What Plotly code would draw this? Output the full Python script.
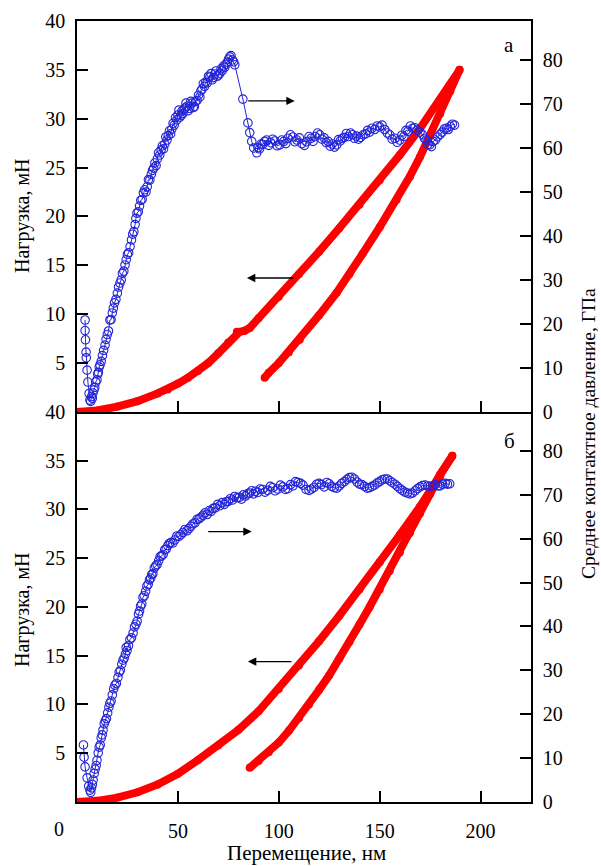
import plotly.graph_objects as go

# ---------------- data ----------------
# Panel "а" (top): load (mN) vs displacement (nm)
top_load_x = [0, 10, 20, 30, 40, 45, 50, 55, 60, 65, 70, 75, 79.2, 80.5, 83, 85.6, 90, 100,
              110, 120, 130, 140, 150, 160, 170, 180, 189.6]
top_load_y = [0, 0.15, 0.55, 1.1, 1.9, 2.3, 2.9, 3.5, 4.2, 5.0, 6.0, 7.1, 8.2, 8.2, 8.3, 8.6, 9.6, 11.8,
              14.1, 16.4, 18.8, 21.2, 23.7, 26.3, 29.0, 31.9, 35.0]
top_unload_x = [189.6, 185, 180, 175, 170, 165, 158.4, 150, 141.6, 135, 128.7, 120, 110.4, 105, 100, 95, 93]
top_unload_y = [35.0, 32.8, 30.5, 28.2, 26.1, 24.1, 21.7, 18.9, 16.2, 14.1, 12.2, 9.9, 7.4, 6.1, 5.0, 4.0, 3.5]

# Panel "а": mean contact pressure (GPa), (displacement, pressure) pairs
top_pressure = [
    (4.0, 20.9), (4.0, 18.5), (4.2, 16.4), (4.5, 13.6), (4.6, 12.3), (5.0, 9.5), (5.4, 6.8), (6.0, 4.2),
    (6.4, 2.7), (6.8, 2.4), (7.2, 3.5), (7.6, 3.1), (7.9, 4.3), (8.4, 5.0), (8.8, 5.6), (9.3, 6.8),
    (9.9, 7.3), (10.3, 8.6), (10.6, 9.0), (11.0, 10.2), (11.4, 10.7), (12.0, 11.5), (12.6, 12.8),
    (13.2, 14.0), (13.9, 15.2), (14.4, 16.5), (15.0, 17.6), (15.6, 18.4), (16.3, 20.9), (16.9, 21.0),
    (17.5, 22.5), (18.0, 23.6), (18.6, 24.8), (19.3, 25.6), (20.0, 27.0), (20.6, 28.4), (21.3, 29.3),
    (21.9, 30.0), (22.5, 31.5), (23.2, 32.0), (23.8, 33.4), (24.4, 34.6), (25.0, 35.8), (25.6, 36.2),
    (26.3, 37.6), (27.0, 39.1), (27.6, 40.4), (28.2, 41.0), (28.8, 42.6), (29.2, 44.0), (29.7, 45.2),
    (30.4, 45.5), (31.0, 46.8), (31.6, 48.1), (32.3, 48.3), (32.9, 49.8), (33.5, 50.5), (34.2, 50.0),
    (34.8, 51.2), (35.4, 52.8), (36.1, 52.7), (36.8, 54.0), (37.4, 54.9), (38.0, 55.4), (38.6, 56.6),
    (39.2, 56.0), (39.8, 57.5), (40.4, 58.9), (41.0, 58.4), (41.7, 59.6), (42.3, 60.5), (42.9, 59.8),
    (43.5, 60.9), (44.0, 62.5), (44.6, 61.8), (45.2, 62.8), (45.8, 63.9), (46.4, 63.2), (47.0, 64.3),
    (47.6, 65.6), (48.2, 65.2), (48.8, 66.9), (49.5, 66.4), (50.0, 67.5), (50.5, 68.6), (51.0, 67.0),
    (51.6, 67.4), (52.0, 68.4), (52.5, 67.8), (53.0, 68.8), (53.5, 69.1), (54.0, 70.2), (54.6, 69.5),
    (55.2, 68.5), (55.8, 69.0), (56.4, 70.6), (57.0, 70.2), (57.6, 69.2), (58.2, 69.4), (58.8, 70.6),
    (59.5, 70.8), (60.2, 72.0), (60.9, 71.6), (61.4, 73.0), (62.0, 73.4), (62.6, 74.6), (63.2, 74.0),
    (63.8, 75.0), (64.5, 74.8), (65.2, 76.3), (65.8, 76.1), (66.4, 76.9), (67.0, 75.5), (67.6, 76.0),
    (68.3, 76.8), (68.9, 77.5), (69.5, 76.3), (70.2, 76.6), (70.8, 77.0), (71.4, 78.0), (72.0, 77.6),
    (72.6, 78.6), (73.2, 78.3), (73.8, 79.0), (74.5, 79.5), (75.1, 80.2), (75.7, 80.7), (76.3, 81.0),
    (77.0, 80.0), (77.6, 79.6), (78.2, 78.9),
    (82.2, 71.1), (84.7, 65.7), (85.6, 63.5), (86.6, 61.5), (87.6, 60.0),
    (89.1, 58.9), (89.8, 60.1), (90.5, 59.8), (91.2, 60.9), (92.0, 60.8), (93.0, 61.5), (94.0, 61.8),
    (95.0, 60.6), (96.0, 61.2), (97.0, 62.0), (98.0, 61.6), (99.2, 60.5), (100.5, 60.7), (101.5, 61.8),
    (102.5, 61.5), (103.5, 61.0), (104.5, 62.2), (105.8, 63.0), (107.0, 62.5), (108.0, 61.4),
    (109.0, 61.8), (110.2, 62.3), (111.5, 61.0), (112.7, 60.6), (113.9, 61.4), (115.0, 62.6),
    (116.0, 62.2), (117.0, 61.5), (118.0, 62.6), (119.2, 63.4), (120.3, 63.0), (121.4, 62.0),
    (122.5, 62.3), (123.5, 61.2), (124.5, 61.5), (125.5, 60.4), (126.5, 60.9), (127.6, 60.2),
    (128.7, 60.7), (129.6, 61.9), (130.5, 61.6), (131.5, 62.2), (132.5, 62.4), (133.5, 63.3),
    (134.5, 62.6), (135.6, 63.4), (136.6, 63.0), (137.5, 62.2), (138.5, 62.7), (139.5, 62.0),
    (140.5, 62.4), (141.8, 63.0), (143.0, 63.2), (144.0, 64.0), (145.0, 63.6), (146.2, 64.5),
    (147.5, 64.2), (148.8, 65.0), (150.0, 64.8), (151.2, 65.2), (152.5, 64.2), (153.8, 63.4),
    (155.0, 63.0), (156.2, 62.0), (157.5, 62.2), (158.7, 61.3), (159.9, 61.8), (161.0, 62.9),
    (162.0, 62.6), (163.0, 64.0), (164.0, 63.8), (165.2, 65.0), (166.3, 64.5), (167.4, 64.6),
    (168.5, 64.0), (170.0, 63.6), (171.3, 63.0), (172.2, 62.2), (173.0, 61.8), (173.9, 60.8),
    (174.8, 60.7), (175.6, 60.3), (176.5, 61.5), (177.6, 61.8), (178.7, 62.5), (180.0, 63.1),
    (181.0, 63.6), (182.0, 64.3), (183.2, 64.5), (184.0, 64.2), (185.0, 64.9), (186.0, 65.4),
    (187.1, 65.2),
]

# Panel "б" (bottom): load (mN)
bot_load_x = [0, 10, 20, 30, 40, 50, 60, 70, 80, 90, 100, 110, 120, 130, 140, 150, 160, 170, 180, 186]
bot_load_y = [0, 0.12, 0.45, 1.0, 1.8, 2.9, 4.3, 5.8, 7.4, 9.3, 11.6, 14.0, 16.5, 19.1, 21.8, 24.6, 27.4,
              30.3, 33.4, 35.5]
bot_unload_x = [186, 180, 175, 170, 165, 160, 155, 150, 145, 140, 135, 130, 125, 120, 115, 110, 105, 100,
                95, 90, 85.6]
bot_unload_y = [35.5, 33.6, 31.6, 29.6, 27.6, 25.6, 23.7, 21.8, 20.0, 18.2, 16.4, 14.7, 13.0, 11.5, 10.0,
                8.6, 7.3, 6.1, 5.1, 4.2, 3.5]

# Panel "б": mean contact pressure (GPa)
bot_pressure = [
    (3.2, 13.0), (3.5, 10.2), (4.0, 8.0), (5.0, 5.5), (5.8, 3.6),
    (6.4, 2.7), (6.8, 2.2), (7.2, 3.2), (7.6, 4.0), (8.0, 5.0), (8.5, 6.5), (9.0, 7.5), (9.5, 8.3),
    (9.9, 9.5), (10.5, 11.2), (11.0, 12.5), (11.5, 13.0), (12.0, 14.6), (12.5, 15.3), (12.9, 16.4),
    (13.5, 17.8), (14.0, 18.5), (14.6, 19.0), (15.2, 20.3), (15.8, 21.6), (16.3, 22.5), (16.9, 23.0),
    (17.5, 24.4), (18.2, 25.8), (18.8, 26.6), (19.5, 27.0), (20.3, 28.4), (20.9, 29.6), (21.5, 30.0),
    (22.2, 31.4), (22.8, 32.3), (23.4, 32.8), (24.0, 33.7), (24.4, 35.2), (24.8, 34.5), (25.5, 35.6),
    (26.2, 37.0), (27.0, 37.4), (27.8, 38.5), (28.5, 39.9), (29.2, 40.5), (29.8, 41.2), (30.5, 42.8),
    (31.0, 43.5), (31.5, 44.6), (32.1, 45.1), (32.7, 46.6), (33.3, 47.0), (34.0, 48.0), (34.6, 49.2),
    (35.3, 49.6), (35.9, 50.6), (36.5, 51.0), (37.0, 51.8), (37.6, 52.0), (38.3, 53.3), (39.0, 53.8),
    (39.7, 54.1), (40.5, 55.0), (41.2, 55.9), (42.0, 56.1), (42.7, 56.4), (43.5, 57.5), (44.2, 57.6),
    (45.0, 58.4), (45.7, 58.9), (46.5, 59.1), (47.5, 59.0), (48.5, 59.7), (49.5, 60.6), (50.5, 60.5),
    (51.5, 60.9), (52.5, 61.4), (53.5, 62.1), (54.5, 61.8), (55.5, 62.3), (56.5, 62.8), (57.5, 63.4),
    (58.5, 63.6), (59.5, 64.4), (60.5, 64.5), (61.5, 64.9), (62.4, 65.3), (63.5, 65.9), (64.5, 65.5),
    (65.5, 66.4), (66.5, 66.2), (67.5, 66.9), (68.5, 67.0), (69.7, 67.8), (70.8, 67.5), (72.0, 68.2),
    (73.0, 67.8), (74.0, 68.4), (75.0, 68.5), (76.0, 69.1), (77.0, 68.8), (78.1, 69.6), (79.2, 69.3),
    (80.4, 69.4), (81.5, 69.0), (82.5, 70.0), (83.5, 69.7), (84.5, 70.2), (85.5, 70.4), (86.5, 70.9),
    (87.5, 70.2), (88.5, 70.8), (89.5, 70.5), (90.7, 71.3), (92.0, 71.2), (93.2, 70.6), (94.5, 71.0),
    (95.8, 71.9), (97.0, 71.6), (98.2, 70.9), (99.5, 71.3), (100.8, 72.2), (102.0, 71.8), (103.2, 71.2),
    (104.5, 71.4), (105.8, 72.3), (107.0, 72.0), (108.3, 73.0), (109.5, 72.8), (110.8, 72.6),
    (112.0, 72.2), (113.5, 71.2), (115.0, 71.0), (116.2, 71.3), (117.5, 71.7), (118.8, 72.4),
    (120.0, 72.6), (121.2, 72.3), (122.5, 71.8), (123.8, 72.8), (125.0, 72.5), (126.2, 71.9),
    (127.5, 71.6), (128.8, 71.5), (130.0, 72.0), (131.2, 72.6), (132.5, 73.0), (133.8, 73.5),
    (135.0, 73.9), (136.2, 74.0), (137.5, 73.6), (138.8, 72.9), (140.0, 72.4), (141.2, 72.3),
    (142.5, 71.9), (143.8, 71.5), (145.0, 71.6), (146.2, 71.9), (147.5, 72.2), (148.8, 72.7),
    (150.0, 73.0), (151.2, 73.4), (152.5, 73.6), (153.8, 73.6), (155.0, 73.2), (156.2, 72.8),
    (157.5, 72.4), (158.8, 71.9), (160.0, 71.4), (161.2, 71.0), (162.5, 70.6), (163.8, 70.4),
    (165.0, 70.2), (166.2, 70.4), (167.5, 70.9), (168.8, 71.4), (170.0, 71.8), (171.2, 72.1),
    (172.5, 72.2), (173.8, 72.0), (175.0, 71.9), (176.2, 72.0), (177.5, 72.3), (178.8, 72.0),
    (180.0, 72.0), (181.2, 72.4), (182.5, 72.6), (183.6, 72.4), (184.7, 72.5),
]

x_ticks = [50, 100, 150, 200]
load_ticks = [5, 10, 15, 20, 25, 30, 35, 40]
press_ticks = [0, 10, 20, 30, 40, 50, 60, 70, 80]

# ---------------- figure ----------------
RED = "#ff0000"
BLUE = "#2424d8"
FONT = "Liberation Serif, Times New Roman, serif"

fig = go.Figure()

def blue_trace(points, xa, ya):
    xs = [p[0] for p in points]
    ys = [p[1] for p in points]
    return go.Scatter(x=xs, y=ys, xaxis=xa, yaxis=ya, mode="lines+markers",
                      line=dict(color=BLUE, width=1),
                      marker=dict(symbol="circle-open", size=8.5, color=BLUE, line=dict(width=1.1)),
                      showlegend=False, hoverinfo="skip")

def red_trace(x, y, xa, ya):
    return go.Scatter(x=x, y=y, xaxis=xa, yaxis=ya, mode="lines+markers",
                      line=dict(color=RED, width=8),
                      marker=dict(size=8, color=RED),
                      showlegend=False, hoverinfo="skip")

# top panel
fig.add_trace(blue_trace(top_pressure, "x2", "y4"))
fig.add_trace(red_trace(top_load_x, top_load_y, "x2", "y3"))
fig.add_trace(red_trace(top_unload_x, top_unload_y, "x2", "y3"))
# bottom panel
fig.add_trace(blue_trace(bot_pressure, "x", "y2"))
fig.add_trace(red_trace(bot_load_x, bot_load_y, "x", "y"))
fig.add_trace(red_trace(bot_unload_x, bot_unload_y, "x", "y"))

SPLIT = 0.4994
tickfont = dict(family=FONT, size=20, color="black")
common_x = dict(range=[0, 225], tickvals=x_ticks, ticks="inside", ticklen=11, tickwidth=1.5,
                tickcolor="black", showline=True, linecolor="black", linewidth=1.5,
                showgrid=False, zeroline=False, tickfont=tickfont, automargin=False)
common_y = dict(ticks="inside", ticklen=11, tickwidth=1.5, tickcolor="black", showline=True,
                linecolor="black", linewidth=1.5, showgrid=False, zeroline=False, tickfont=tickfont,
                ticklabelstandoff=6, automargin=False)

fig.update_layout(
    template="none",
    width=601, height=866,
    margin=dict(l=77, r=70, t=21, b=64, pad=0),
    paper_bgcolor="white", plot_bgcolor="white",
    font=dict(family=FONT, size=18, color="black"),
    xaxis=dict(domain=[0, 1], anchor="y", ticklabelstandoff=10, **common_x),
    xaxis2=dict(domain=[0, 1], anchor="y3", showticklabels=False, mirror=True, **common_x),
    yaxis=dict(domain=[0, SPLIT], range=[0, 40], tickvals=load_ticks, anchor="x", **common_y),
    yaxis2=dict(range=[0, 88.86], tickvals=press_ticks, overlaying="y", side="right", anchor="x",
                **common_y),
    yaxis3=dict(domain=[SPLIT, 1], range=[0, 40], tickvals=load_ticks, anchor="x2", **common_y),
    yaxis4=dict(range=[0, 88.86], tickvals=press_ticks, overlaying="y3", side="right", anchor="x2",
                **common_y),
)

def px_x(p):
    return (p - 77) / 454.0

def px_y(p):
    return (802 - p) / 781.0

ann = []
# axis titles
ann.append(dict(text="Перемещение, нм", xref="paper", yref="paper", x=px_x(306), y=px_y(853),
                showarrow=False, font=dict(size=21), xanchor="center", yanchor="middle"))
ann.append(dict(text="Нагрузка, мН", xref="paper", yref="paper", x=px_x(22), y=px_y(216),
                showarrow=False, textangle=-90, font=dict(size=20), xanchor="center", yanchor="middle"))
ann.append(dict(text="Нагрузка, мН", xref="paper", yref="paper", x=px_x(22), y=px_y(610),
                showarrow=False, textangle=-90, font=dict(size=20), xanchor="center", yanchor="middle"))
ann.append(dict(text="Среднее контактное давление, ГПа", xref="paper", yref="paper", x=px_x(589),
                y=px_y(434), showarrow=False, textangle=-90, font=dict(size=19.5),
                xanchor="center", yanchor="middle"))
# x zero label (sits left of the axis in the original)
ann.append(dict(text="0", xref="paper", yref="paper", x=px_x(59), y=px_y(829), showarrow=False,
                font=dict(size=20), xanchor="center", yanchor="middle"))
# panel letters
ann.append(dict(text="а", xref="paper", yref="paper", x=px_x(509), y=px_y(45), showarrow=False,
                font=dict(size=21), xanchor="center", yanchor="middle"))
ann.append(dict(text="б", xref="paper", yref="paper", x=px_x(509), y=px_y(441), showarrow=False,
                font=dict(size=21), xanchor="center", yanchor="middle"))
# arrows
arrow_style = dict(showarrow=True, arrowhead=2, arrowsize=1.2, arrowwidth=1.4, arrowcolor="black",
                   text="", ay=0)
ann.append(dict(xref="x2", yref="y4", x=107.9, y=70.7, ax=-48, **arrow_style))
ann.append(dict(xref="x2", yref="y3", x=84.2, y=13.7, ax=48, **arrow_style))
ann.append(dict(xref="x", yref="y2", x=86.6, y=61.6, ax=-45, **arrow_style))
ann.append(dict(xref="x", yref="y", x=84.7, y=14.4, ax=45, **arrow_style))
fig.update_layout(annotations=ann)

fig.write_html("out.html", config={"displayModeBar": False},
               post_script="document.body.style.margin='0';document.body.style.overflow='hidden';")
